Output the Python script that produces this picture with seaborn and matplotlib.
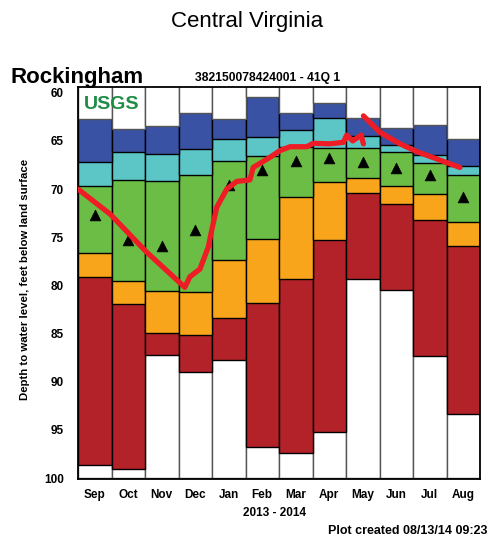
import numpy as np
import pandas as pd
import matplotlib
matplotlib.use("Agg")
import matplotlib.pyplot as plt
import seaborn as sns

# Monthly percentile bands of depth to water (feet below land surface), Sep 2013 - Aug 2014
months = ["Sep", "Oct", "Nov", "Dec", "Jan", "Feb", "Mar", "Apr", "May", "Jun", "Jul", "Aug"]
max_bottom = [62.7, 63.8, 63.5, 62.1, 62.7, 60.4, 62.1, 61.1, 62.65, 63.65, 63.35, 64.85]
much_above_bottom = [67.15, 66.1, 66.35, 65.8, 64.8, 64.55, 63.9, 62.65, 64.45, 65.4, 66.5, 67.6]
above_bottom = [69.7, 69.05, 69.2, 68.5, 67.1, 66.6, 65.6, 65.7, 65.7, 66.1, 67.3, 68.55]
normal_bottom = [76.65, 79.5, 80.6, 80.7, 77.4, 75.2, 70.8, 69.3, 68.9, 69.7, 70.5, 73.4]
below_bottom = [79.1, 81.9, 84.9, 85.1, 83.35, 81.8, 79.3, 75.3, 70.4, 71.5, 73.2, 75.9]
much_below_bottom = [98.6, 99.1, 87.2, 89.0, 87.7, 96.75, 97.4, 95.2, 79.3, 80.45, 87.3, 93.4]
record_low = [100.0] * 12
median = [72.7, 75.3, 75.9, 74.2, 69.6, 68.0, 67.05, 66.8, 67.15, 67.8, 68.5, 70.85]

# Observed water level, time in months since 1 Sep 2013
obs1_t = [0.0, 0.96, 2.05, 3.19, 3.34, 3.64, 3.89, 3.99, 4.14, 4.44, 4.74, 5.13, 5.23,
          5.73, 6.03, 6.33, 6.83, 7.02, 7.5, 7.92, 8.02, 8.2, 8.45, 8.52]
obs1_d = [70.0, 72.6, 76.55, 80.2, 79.1, 78.3, 76.0, 74.3, 71.9, 70.0, 69.2, 69.05, 67.75,
          66.7, 66.0, 65.6, 65.6, 65.25, 65.3, 65.15, 64.4, 65.0, 64.4, 65.3]
obs2_t = [8.52, 9.01, 9.61, 10.11, 10.81, 11.4]
obs2_d = [62.4, 64.1, 65.3, 66.1, 67.0, 67.75]

station = "Rockingham"
site_id = "382150078424001 - 41Q 1"

sns.set_style("white")
plt.rcParams["font.family"] = ["Liberation Sans", "DejaVu Sans"]
plt.rcParams["text.color"] = "black"
plt.rcParams["xtick.color"] = "black"
plt.rcParams["ytick.color"] = "black"
plt.rcParams["axes.labelcolor"] = "black"

fig = plt.figure(figsize=(4.91, 5.5), dpi=100)
ax = fig.add_axes([78 / 491, 1 - 479 / 550, 402 / 491, 392 / 550])

# Bands drawn from the deepest outward, each bar reaching down from the top of the chart
layers = [
    (record_low, "white", "#555555"),
    (much_below_bottom, "#B22228", "black"),
    (below_bottom, "#F9A51B", "black"),
    (normal_bottom, "#6BBD45", "black"),
    (above_bottom, "#5CC6C7", "black"),
    (much_above_bottom, "#3A52A3", "black"),
    (max_bottom, "white", "#555555"),
]
for vals, fc, ec in layers:
    df = pd.DataFrame({"month": months, "depth": vals})
    sns.barplot(data=df, x="month", y="depth", order=months, color=fc, saturation=1,
                width=1.0, edgecolor=ec, linewidth=1.0, ax=ax)

sns.scatterplot(x=months, y=median, marker="^", color="black", s=60,
                edgecolor="black", linewidth=0.5, ax=ax, zorder=5)

for t, d in ((obs1_t, obs1_d), (obs2_t, obs2_d)):
    sns.lineplot(x=np.array(t) - 0.5, y=d, sort=False, estimator=None,
                 color="#EE1C25", linewidth=3.8, ax=ax, zorder=6)

ax.set_xlim(-0.5, 11.5)
ax.set_ylim(100.1, 59.4)
ax.set_yticks([60, 65, 70, 75, 80, 85, 90, 95, 100])
ax.set_xlabel("")
ax.set_ylabel("")
ax.tick_params(axis="both", length=0, labelsize=8.5, labelcolor="black")
ax.tick_params(axis="y", pad=10)
ax.tick_params(axis="x", pad=7)
for lab in ax.get_xticklabels() + ax.get_yticklabels():
    lab.set_fontweight("bold")
for sp in ax.spines.values():
    sp.set_visible(True)
    sp.set_color("black")
    sp.set_linewidth(1.3)

ax.text(0.015, 0.978, "USGS", transform=ax.transAxes, ha="left", va="top",
        fontsize=14, fontweight="bold", color="#1E8C45", zorder=7)

fig.text(0.504, 0.96, "Central Virginia", ha="center", va="center", fontsize=16)
fig.text(10 / 491, 1 - 83 / 550, station, ha="left", va="baseline",
         fontsize=16, fontweight="bold")
fig.text(195 / 491, 1 - 81 / 550, site_id, ha="left", va="baseline",
         fontsize=8.7, fontweight="bold")
fig.text(25 / 491, 1 - 279 / 550, "Depth to water level, feet below land surface",
         rotation=90, ha="center", va="center", fontsize=8.2, fontweight="bold")
fig.text(274.5 / 491, 1 - 513 / 550, "2013 - 2014", ha="center", va="center",
         fontsize=8.5, fontweight="bold")
fig.text(487 / 491, 1 - 531 / 550, "Plot created 08/13/14 09:23", ha="right", va="center",
         fontsize=9, fontweight="bold")

fig.savefig("out.png", dpi=100)
